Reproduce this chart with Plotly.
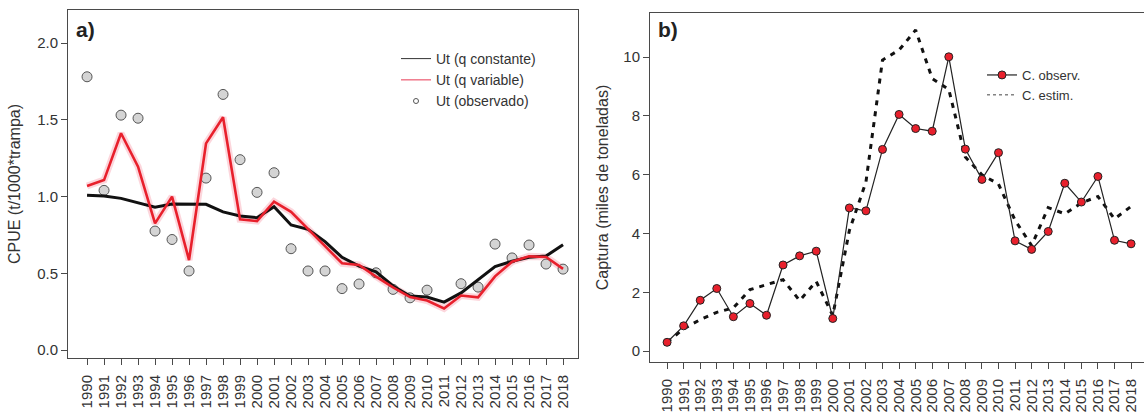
import plotly.graph_objects as go

years = list(range(1990, 2019))
year_labels = [str(y) for y in years]

# Panel a: CPUE (t/1000*trampa)
ut_q_constante = [1.008, 1.003, 0.988, 0.96, 0.93, 0.951, 0.949, 0.949, 0.90, 0.873,
                  0.862, 0.934, 0.815, 0.786, 0.706, 0.604, 0.547, 0.51, 0.417, 0.352,
                  0.345, 0.312, 0.372, 0.456, 0.543, 0.578, 0.604, 0.612, 0.686]
ut_q_variable = [1.068, 1.107, 1.412, 1.194, 0.825, 0.999, 0.586, 1.346, 1.516, 0.851,
                 0.84, 0.966, 0.90, 0.786, 0.673, 0.565, 0.554, 0.478, 0.408, 0.345,
                 0.322, 0.271, 0.355, 0.343, 0.48, 0.575, 0.61, 0.606, 0.529]
ut_observado = [1.78, 1.04, 1.53, 1.51, 0.775, 0.72, 0.515, 1.12, 1.665, 1.24,
                1.027, 1.155, 0.66, 0.515, 0.515, 0.40, 0.43, 0.503, 0.395, 0.34,
                0.39, None, 0.432, 0.41, 0.69, 0.60, 0.684, 0.56, 0.527]

# Panel b: Captura (miles de toneladas)
c_observ = [0.30, 0.86, 1.73, 2.13, 1.17, 1.62, 1.22, 2.93, 3.24, 3.40,
            1.11, 4.87, 4.77, 6.86, 8.05, 7.57, 7.48, 10.01, 6.87, 5.84,
            6.75, 3.75, 3.46, 4.07, 5.71, 5.07, 5.94, 3.77, 3.65]
c_estim = [0.30, 0.76, 1.07, 1.32, 1.47, 2.09, 2.26, 2.43, 1.72, 2.37,
           1.21, 4.1, 5.75, 9.9, 10.24, 10.92, 9.27, 8.9, 6.6, 6.0,
           5.68, 4.45, 3.59, 4.88, 4.67, 5.04, 5.26, 4.50, 4.92]

yticks_a = [0.0, 0.5, 1.0, 1.5, 2.0]
yticks_a_labels = ["0.0", "0.5", "1.0", "1.5", "2.0"]
yticks_b = [0, 2, 4, 6, 8, 10]

FONT = "Liberation Sans, Arial, sans-serif"
AX = "#4a4a4a"
RED = "#e8202c"

fig = go.Figure()

# ---- panel a ----
fig.add_trace(go.Scatter(x=years, y=ut_q_variable, mode="lines", xaxis="x", yaxis="y",
                         line=dict(color="rgba(245,120,140,0.30)", width=7),
                         showlegend=False, hoverinfo="skip"))
fig.add_trace(go.Scatter(x=years, y=ut_observado, mode="markers", xaxis="x", yaxis="y",
                         marker=dict(size=10, color="#d4d4d4", line=dict(color="#555555", width=1)),
                         showlegend=False))
fig.add_trace(go.Scatter(x=years, y=ut_q_constante, mode="lines", xaxis="x", yaxis="y",
                         line=dict(color="#111111", width=3), showlegend=False))
fig.add_trace(go.Scatter(x=years, y=ut_q_variable, mode="lines", xaxis="x", yaxis="y",
                         line=dict(color=RED, width=2.6), showlegend=False))
# legend entries (thin samples as in the original key)
fig.add_trace(go.Scatter(x=[None], y=[None], mode="lines", name="Ut (q constante)",
                         xaxis="x", yaxis="y", line=dict(color="#333333", width=1),
                         legend="legend"))
fig.add_trace(go.Scatter(x=[None], y=[None], mode="lines", name="Ut (q variable)",
                         xaxis="x", yaxis="y", line=dict(color="#f07a8c", width=1.5),
                         legend="legend"))
fig.add_trace(go.Scatter(x=[None], y=[None], mode="markers", name="Ut (observado)",
                         xaxis="x", yaxis="y",
                         marker=dict(size=5, color="white", line=dict(color="#555555", width=1)),
                         legend="legend"))

# ---- panel b ----
fig.add_trace(go.Scatter(x=years, y=c_estim, mode="lines", xaxis="x2", yaxis="y2",
                         line=dict(color="#111111", width=3, dash="5px,6px"),
                         showlegend=False))
fig.add_trace(go.Scatter(x=years, y=c_observ, mode="lines+markers", name="C. observ.",
                         xaxis="x2", yaxis="y2",
                         line=dict(color="#222222", width=1.2),
                         marker=dict(size=8, color=RED, line=dict(color="#222222", width=1)),
                         legend="legend2"))
fig.add_trace(go.Scatter(x=[None], y=[None], mode="lines", name="C. estim.",
                         xaxis="x2", yaxis="y2",
                         line=dict(color="#444444", width=1, dash="dot"),
                         legend="legend2"))

W, H = 1144, 414
def px_x(p):
    return p / W
def px_y(p):
    return 1 - p / H

axis_common = dict(showline=True, linecolor=AX, linewidth=1, ticks="outside", ticklen=6,
                   tickcolor=AX, showgrid=False, zeroline=False)
xfont = dict(family=FONT, size=15, color="#333333")
yfont = dict(family=FONT, size=15, color="#333333")

fig.update_layout(
    width=W, height=H,
    margin=dict(l=0, r=0, t=0, b=0),
    paper_bgcolor="white", plot_bgcolor="white",
    font=dict(family=FONT, color="#333333"),
    xaxis=dict(domain=[px_x(68), px_x(578)], range=[1988.88, 2018.88], anchor="y",
               tickmode="array", tickvals=years, ticktext=year_labels, tickangle=-90,
               tickfont=xfont, ticklabelstandoff=4, mirror=True, **axis_common),
    yaxis=dict(domain=[px_y(358), px_y(10)], range=[-0.052, 2.215], anchor="x",
               tickmode="array", tickvals=yticks_a, ticktext=yticks_a_labels,
               tickfont=yfont, mirror=True,
               title=dict(text="CPUE (t/1000*trampa)", standoff=12,
                          font=dict(family=FONT, size=16, color="#333333")),
               **axis_common),
    xaxis2=dict(domain=[px_x(650), 1.0], range=[1988.97, 2018.78], anchor="y2",
                tickmode="array", tickvals=years, ticktext=year_labels, tickangle=-90,
                tickfont=xfont, ticklabelstandoff=4, mirror=True, **axis_common),
    yaxis2=dict(domain=[px_y(362), px_y(13)], range=[-0.37, 11.5], anchor="x2",
                tickmode="array", tickvals=yticks_b, tickfont=yfont,
                title=dict(text="Captura (miles de toneladas)", standoff=10,
                           font=dict(family=FONT, size=16, color="#333333")),
                **axis_common),
    legend=dict(x=px_x(396), y=px_y(43), xanchor="left", yanchor="top",
                bgcolor="rgba(0,0,0,0)", borderwidth=0, tracegroupgap=0,
                font=dict(family=FONT, size=14, color="#333333"), itemwidth=30),
    legend2=dict(x=px_x(982), y=px_y(60), xanchor="left", yanchor="top",
                 bgcolor="rgba(0,0,0,0)", borderwidth=0, tracegroupgap=0,
                 font=dict(family=FONT, size=13, color="#333333"), itemwidth=30),
    annotations=[
        dict(text="<b>a)</b>", x=px_x(74), y=px_y(16), xref="paper", yref="paper",
             xanchor="left", yanchor="top", showarrow=False,
             font=dict(family=FONT, size=21, color="#222222")),
        dict(text="<b>b)</b>", x=px_x(656), y=px_y(16), xref="paper", yref="paper",
             xanchor="left", yanchor="top", showarrow=False,
             font=dict(family=FONT, size=21, color="#222222")),
    ],
)

fig.write_html("out.html")
